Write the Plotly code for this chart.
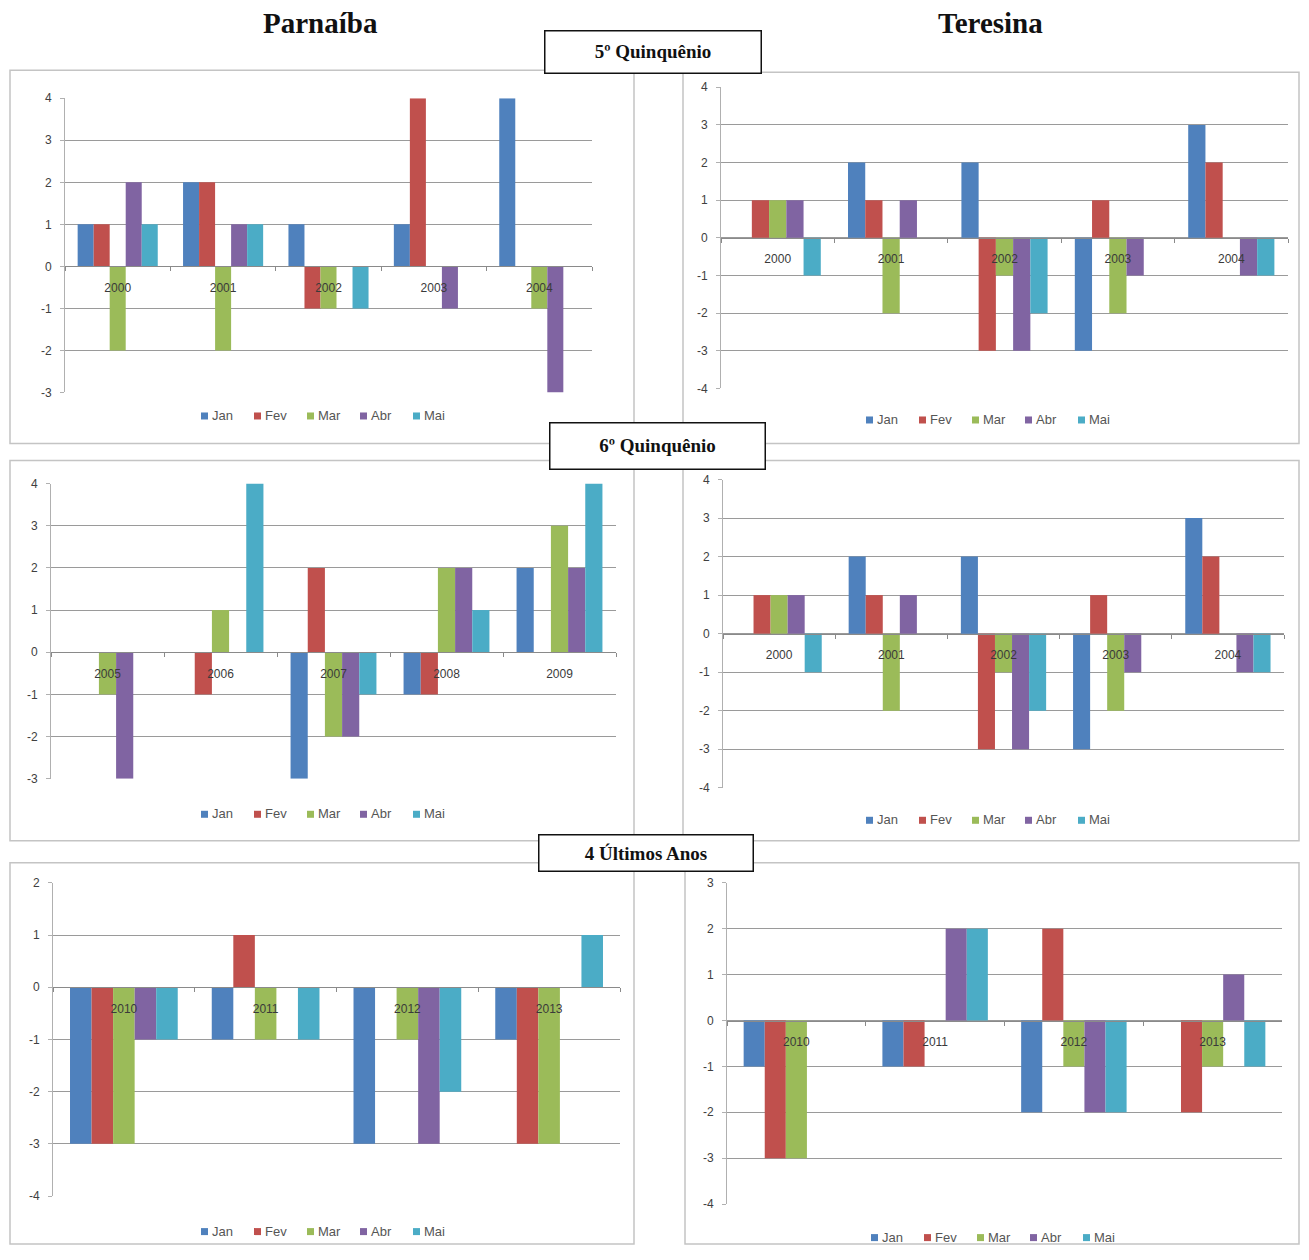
import plotly.graph_objects as go

# page geometry: figure sits inside the page body; the photographed page
# is slightly taller than the window, so vertical positions are pre-scaled
OFFX, OFFY, SY = 8, 15, 0.988
W, H = 1309 - 2 * OFFX, 1244

months = ["Jan", "Fev", "Mar", "Abr", "Mai"]
colors = ["#4F81BD", "#C0504D", "#9BBB59", "#8064A2", "#4BACC6"]

years_q5 = ["2000", "2001", "2002", "2003", "2004"]
years_q6 = ["2005", "2006", "2007", "2008", "2009"]
years_last = ["2010", "2011", "2012", "2013"]

# values per month (Jan, Fev, Mar, Abr, Mai), one entry per year
parnaiba_q5 = [
    [1, 2, 1, 1, 4],
    [1, 2, -1, 4, 0],
    [-2, -2, -1, 0, -1],
    [2, 1, 0, -1, -3],
    [1, 1, -1, 0, 0],
]
teresina_q5 = [
    [0, 2, 2, -3, 3],
    [1, 1, -3, 1, 2],
    [1, -2, -1, -2, 0],
    [1, 1, -3, -1, -1],
    [-1, 0, -2, 0, -1],
]
parnaiba_q6 = [
    [0, 0, -3, -1, 2],
    [0, -1, 2, -1, 0],
    [-1, 1, -2, 2, 3],
    [-3, 0, -2, 2, 2],
    [0, 4, -1, 1, 4],
]
teresina_q6_years = ["2000", "2001", "2002", "2003", "2004"]
teresina_q6 = [
    [0, 2, 2, -3, 3],
    [1, 1, -3, 1, 2],
    [1, -2, -1, -2, 0],
    [1, 1, -3, -1, -1],
    [-1, 0, -2, 0, -1],
]
parnaiba_last = [
    [-3, -1, -3, -1],
    [-3, 1, 0, -3],
    [-3, -1, -1, -3],
    [-1, 0, -3, 0],
    [-1, -1, -2, 1],
]
teresina_last = [
    [-1, -1, -2, 0],
    [-3, -1, 2, -2],
    [-3, 0, -1, -1],
    [0, 2, -2, 1],
    [0, 2, -2, -1],
]

y_ranges = [(-3, 4), (-4, 4), (-3, 4), (-4, 4), (-4, 2), (-4, 3)]

panels = [
    dict(years=years_q5, data=parnaiba_q5, px=(65, 592), py=(98, 392), leg=(325, 415), box=(10, 70, 634, 443)),
    dict(years=years_q5, data=teresina_q5, px=(721, 1288), py=(87, 388), leg=(990, 419), box=(683, 72, 1299, 443)),
    dict(years=years_q6, data=parnaiba_q6, px=(51, 616), py=(483, 778), leg=(325, 813), box=(10, 460, 634, 840)),
    dict(years=teresina_q6_years, data=teresina_q6, px=(723, 1284), py=(479, 787), leg=(990, 819), box=(683, 460, 1299, 840)),
    dict(years=years_last, data=parnaiba_last, px=(53, 620), py=(882, 1195), leg=(325, 1230), box=(10, 862, 634, 1243)),
    dict(years=years_last, data=teresina_last, px=(727, 1282), py=(882, 1203), leg=(995, 1236), box=(685, 862, 1299, 1243)),
]


def fx(p):
    return (p - OFFX) / W


def fy(p):
    return 1 - (p / SY - OFFY) / H


fig = go.Figure()
layout = dict(
    width=W, height=H,
    margin=dict(l=0, r=0, t=0, b=0),
    paper_bgcolor="white", plot_bgcolor="rgba(0,0,0,0)",
    barmode="group", bargap=0.24, bargroupgap=0,
    showlegend=False,
    font=dict(family="Liberation Sans, Arial, sans-serif", color="#404040"),
    shapes=[], annotations=[],
)

for i, p in enumerate(panels):
    k = i + 1
    sfx = "" if k == 1 else str(k)
    xa, ya = "x" + sfx, "y" + sfx
    for m, (name, col) in enumerate(zip(months, colors)):
        fig.add_trace(go.Bar(
            x=p["years"], y=p["data"][m], name=name,
            marker=dict(color=col, line=dict(width=0)),
            xaxis=xa, yaxis=ya,
        ))
    ymin, ymax = y_ranges[i]
    d0, d1 = fy(p["py"][1]), fy(p["py"][0])
    zero_pos = d0 + (0 - ymin) / (ymax - ymin) * (d1 - d0)
    tvals = list(range(ymin, ymax + 1))
    layout["xaxis" + sfx] = dict(
        domain=[fx(p["px"][0]), fx(p["px"][1])],
        anchor="free", position=zero_pos,
        type="category", showgrid=False, zeroline=False,
        showline=True, linecolor="#8a8a8a", linewidth=1,
        ticks="outside", tickson="boundaries", ticklen=4, tickcolor="#8a8a8a",
        ticklabelstandoff=10,
        tickfont=dict(size=12, color="#3a3a3a"),
        fixedrange=True,
    )
    layout["yaxis" + sfx] = dict(
        domain=[d0, d1], anchor=xa,
        range=[ymin, ymax], tickvals=tvals, ticktext=[str(v) for v in tvals],
        showgrid=True, gridcolor="#9a9a9a", gridwidth=1,
        zeroline=False, showline=True, linecolor="#b0b0b0",
        ticks="outside", ticklen=4, tickcolor="#b0b0b0",
        ticklabelstandoff=6,
        tickfont=dict(size=12, color="#404040"),
        fixedrange=True,
    )
    # legend: small colour squares followed by month names
    lx, ly = p["leg"]
    for m, (name, col) in enumerate(zip(months, colors)):
        sx = lx - 124 + m * 53
        layout["shapes"].append(dict(
            type="rect", xref="paper", yref="paper",
            x0=fx(sx), x1=fx(sx + 7), y0=fy(ly + 4), y1=fy(ly - 3),
            line=dict(width=0), fillcolor=col,
        ))
        layout["annotations"].append(dict(
            text=name, xref="paper", yref="paper",
            x=fx(sx + 9), y=fy(ly), xanchor="left", yanchor="middle",
            showarrow=False, font=dict(size=13, color="#555555"),
        ))
    bx = p["box"]
    layout["shapes"].append(dict(
        type="rect", xref="paper", yref="paper",
        x0=fx(bx[0]), x1=fx(bx[2]), y0=fy(bx[3]), y1=fy(bx[1]),
        line=dict(color="#c4c4c4", width=1.5), fillcolor="rgba(0,0,0,0)",
        layer="below",
    ))

# column titles
for txt, cx in [("Parnaíba", 320), ("Teresina", 990)]:
    layout["annotations"].append(dict(
        text="<b>" + txt + "</b>", xref="paper", yref="paper",
        x=fx(cx), y=fy(23), xanchor="center", yanchor="middle",
        showarrow=False,
        font=dict(family="Liberation Serif, Times New Roman, serif", size=29, color="#111"),
    ))

# section boxes
for txt, (x0, y0, x1, y1) in [
    ("5º Quinquênio", (543, 30, 762, 74)),
    ("6º Quinquênio", (548, 421, 766, 469)),
    ("4 Últimos Anos", (537, 833, 754, 872)),
]:
    layout["annotations"].append(dict(
        text="<b>" + txt + "</b>", xref="paper", yref="paper",
        x=fx((x0 + x1) / 2), y=fy((y0 + y1) / 2),
        xanchor="center", yanchor="middle", showarrow=False,
        width=x1 - x0 - 4, height=(y1 - y0) / SY - 4,
        bgcolor="white", bordercolor="#111", borderwidth=1.5, borderpad=0,
        font=dict(family="Liberation Serif, Times New Roman, serif", size=19, color="#111"),
    ))

fig.update_layout(**layout)
fig.write_html("out.html")
